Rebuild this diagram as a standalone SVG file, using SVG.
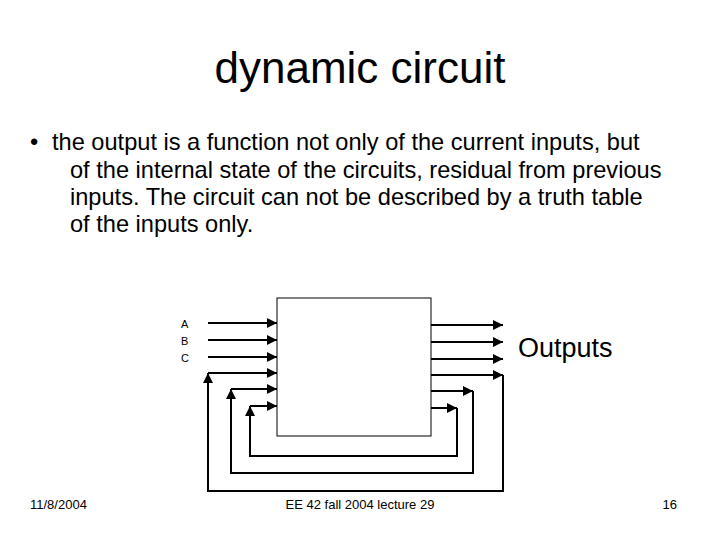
<svg xmlns="http://www.w3.org/2000/svg" width="720" height="540" viewBox="0 0 720 540">
<style>
text{font-family:"Liberation Sans",Arial,sans-serif;fill:#000}
.w{stroke:#000;stroke-width:2;fill:none}
</style>
<defs>
<marker id="a" viewBox="0 0 10 10" refX="10" refY="5" markerWidth="5" markerHeight="5" orient="auto"><path d="M0,0L10,5L0,10z" fill="#000"/></marker>
</defs>
<rect width="720" height="540" fill="#fff"/>
<text x="360" y="83" font-size="44" text-anchor="middle">dynamic circuit</text>
<text font-size="23.6"><tspan x="30" y="150">•</tspan><tspan x="52" y="150">the output is a function not only of the current inputs, but</tspan><tspan x="70" y="178">of the internal state of the circuits, residual from previous</tspan><tspan x="70" y="205">inputs.  The circuit can not be described by a truth table</tspan><tspan x="70" y="232">of the inputs only.</tspan></text>
<g id="box"><rect x="277" y="298" width="154" height="138" fill="#fff" stroke="#000" stroke-width="1"/></g>
<g id="labels" font-size="11"><text x="181" y="328">A</text><text x="181" y="345">B</text><text x="181" y="362">C</text></g>
<text x="518" y="357" font-size="27">Outputs</text>
<g id="connectors" class="w">
<path d="M208,323H277" marker-end="url(#a)"/>
<path d="M208,340H277" marker-end="url(#a)"/>
<path d="M208,357H277" marker-end="url(#a)"/>
<path d="M208,373H277" marker-end="url(#a)"/>
<path d="M231,389H277" marker-end="url(#a)"/>
<path d="M250,406H277" marker-end="url(#a)"/>
<path d="M431,325H503" marker-end="url(#a)"/>
<path d="M431,342H503" marker-end="url(#a)"/>
<path d="M431,359H503" marker-end="url(#a)"/>
<path d="M431,375H503" marker-end="url(#a)"/>
<path d="M431,391H473" marker-end="url(#a)"/>
<path d="M431,408H457" marker-end="url(#a)"/>
<path d="M503,375V491H208V373" marker-end="url(#a)"/>
<path d="M473,391V473H231V389" marker-end="url(#a)"/>
<path d="M457,408V456H250V406" marker-end="url(#a)"/>
</g>
<text x="30" y="509" font-size="13">11/8/2004</text>
<text x="360" y="509" font-size="13" text-anchor="middle">EE 42 fall 2004 lecture 29</text>
<text x="677" y="509" font-size="13" text-anchor="end">16</text>
</svg>
